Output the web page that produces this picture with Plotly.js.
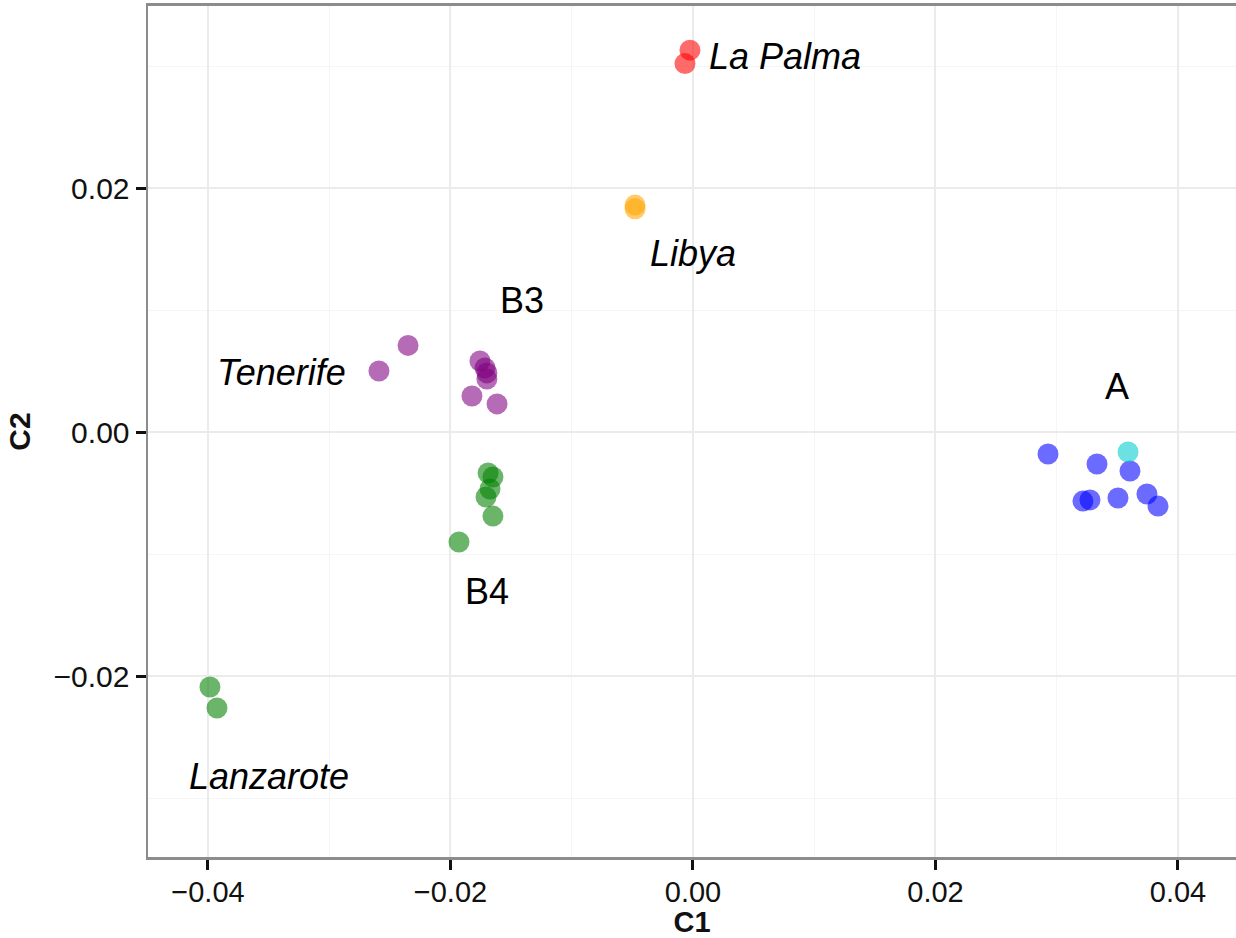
<!DOCTYPE html>
<html>
<head>
<meta charset="utf-8">
<script src="https://cdn.plot.ly/plotly-3.0.1.min.js"></script>
<style>html,body{margin:0;padding:0;background:#fff;}#chart{width:1236px;height:938px;}</style>
</head>
<body>
<div id="chart"></div>
<script>
// ---- data ----
var groups = ["La Palma", "Libya", "Tenerife", "B3", "B4", "Lanzarote", "A", "A-cyan"];
var groupColors = ["#ff0000", "#ffa500", "#800080", "#800080", "#008000", "#008000", "#0000ff", "#00cccc"];

var laPalmaX = [-0.00025, -0.00066];
var laPalmaY = [0.0313, 0.0302];

var libyaX = [-0.00478, -0.00478];
var libyaY = [0.0186, 0.0183];

var tenerifeX = [-0.0259, -0.0235];
var tenerifeY = [0.0050, 0.0071];

var b3X = [-0.01757, -0.01715, -0.0170, -0.0170, -0.01823, -0.01616];
var b3Y = [0.00582, 0.00525, 0.00484, 0.00434, 0.00295, 0.00230];

var b4X = [-0.0169, -0.0165, -0.01674, -0.01707, -0.0165, -0.0193];
var b4Y = [-0.00336, -0.00369, -0.00467, -0.00533, -0.00689, -0.00902];

var lanzaroteX = [-0.03984, -0.03926];
var lanzaroteY = [-0.0209, -0.02262];

var aX = [0.02928, 0.03332, 0.03604, 0.03216, 0.03274, 0.03505, 0.03744, 0.03835];
var aY = [-0.0018, -0.00262, -0.0032, -0.00566, -0.00557, -0.00541, -0.00508, -0.00607];

var aCyanX = [0.03588];
var aCyanY = [-0.00164];

var labelText = ["La Palma", "Libya", "B3", "Tenerife", "A", "B4", "Lanzarote"];
var labelX = [0.00115, 0.0, -0.0141, -0.0339, 0.03497, -0.01699, -0.03497];
var labelY = [0.03074, 0.01467, 0.01074, 0.00484, 0.00377, -0.01311, -0.0282];
var labelItalic = [true, true, false, true, false, false, true];
var labelAnchor = ["left", "center", "center", "center", "center", "center", "center"];

var xTickVals = [-0.04, -0.02, 0.00, 0.02, 0.04];
var xTickText = ["\u22120.04", "\u22120.02", "0.00", "0.02", "0.04"];
var yTickVals = [-0.02, 0.00, 0.02];
var yTickText = ["\u22120.02", "0.00", "0.02"];

// ---- build traces ----
var seriesX = [laPalmaX, libyaX, tenerifeX, b3X, b4X, lanzaroteX, aX, aCyanX];
var seriesY = [laPalmaY, libyaY, tenerifeY, b3Y, b4Y, lanzaroteY, aY, aCyanY];

var traces = groups.map(function (g, i) {
  return {
    type: "scatter",
    mode: "markers",
    name: g,
    x: seriesX[i],
    y: seriesY[i],
    marker: { size: 21, color: groupColors[i], opacity: 0.58, line: { width: 0 } },
    showlegend: false,
    hoverinfo: "x+y+name"
  };
});

var annotations = labelText.map(function (t, i) {
  return {
    x: labelX[i], y: labelY[i], xref: "x", yref: "y",
    text: labelItalic[i] ? "<i>" + t + "</i>" : t,
    showarrow: false,
    xanchor: labelAnchor[i], yanchor: "middle",
    font: { family: "Liberation Sans, Arial, sans-serif", size: 36, color: "#000" }
  };
});

var yAxisFont = { family: "Liberation Sans, Arial, sans-serif", size: 30, color: "#111" };
var xAxisFont = { family: "Liberation Sans, Arial, sans-serif", size: 29, color: "#111" };

var layout = {
  width: 1236, height: 938,
  margin: { l: 148, r: 0, t: 6, b: 81, pad: 0 },
  paper_bgcolor: "#fff", plot_bgcolor: "#fff",
  showlegend: false,
  xaxis: {
    range: [-0.044948, 0.044784],
    tickvals: xTickVals, ticktext: xTickText,
    ticks: "outside", ticklen: 10, tickwidth: 3, tickcolor: "#111",
    tickfont: xAxisFont,
    ticklabelstandoff: -3,
    showgrid: true, gridcolor: "#ebebeb", gridwidth: 2,
    minor: { dtick: 0.01, tick0: 0, showgrid: true, gridcolor: "#f5f5f5", gridwidth: 1, ticks: "" },
    zeroline: false,
    showline: true, linecolor: "#8c8c8c", linewidth: 3, mirror: true,
    title: { text: "<b>C1</b>", font: { family: "Liberation Sans, Arial, sans-serif", size: 29, color: "#111" }, standoff: 3 }
  },
  yaxis: {
    range: [-0.034836, 0.034918],
    tickvals: yTickVals, ticktext: yTickText,
    ticks: "outside", ticklen: 10, tickwidth: 3, tickcolor: "#111",
    tickfont: yAxisFont,
    showgrid: true, gridcolor: "#ebebeb", gridwidth: 2,
    minor: { dtick: 0.01, tick0: 0, showgrid: true, gridcolor: "#f5f5f5", gridwidth: 1, ticks: "" },
    zeroline: false,
    showline: true, linecolor: "#8c8c8c", linewidth: 2.5, mirror: false,
    title: { text: "<b>C2</b>", font: { family: "Liberation Sans, Arial, sans-serif", size: 30, color: "#111" }, standoff: 14 }
  },
  annotations: annotations
};

Plotly.newPlot("chart", traces, layout, { displayModeBar: false, staticPlot: true });
</script>
</body>
</html>
